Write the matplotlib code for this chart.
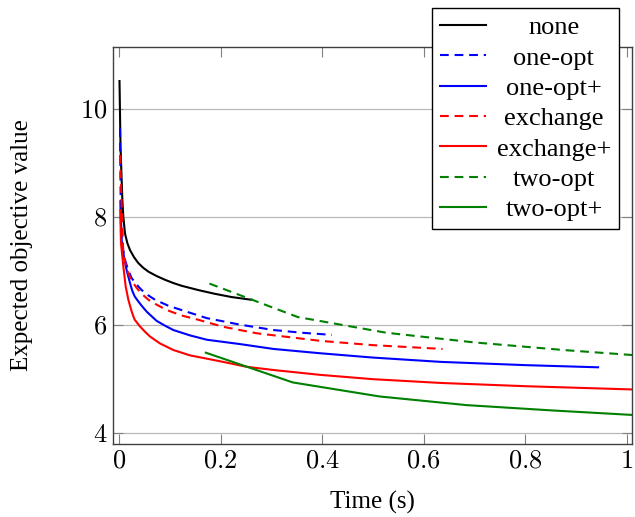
#!/usr/bin/env python3
"""Expected objective value over time for the local-search variants."""
import matplotlib

matplotlib.use("Agg")
import matplotlib.pyplot as plt
import matplotlib.transforms as mtransforms
from matplotlib.ticker import FuncFormatter

# --- data ------------------------------------------------------------------
none_x = [0.001, 0.003, 0.0066, 0.0085, 0.0118, 0.0164, 0.0217, 0.0295, 0.038, 0.048,
          0.058, 0.074, 0.0906, 0.107, 0.123, 0.156, 0.189, 0.222, 0.261]
none_y = [10.52, 9.3, 8.32, 8.01, 7.70, 7.52, 7.39, 7.26, 7.15, 7.06,
          6.99, 6.91, 6.84, 6.78, 6.73, 6.65, 6.58, 6.52, 6.47]

one_opt_x = [0.002, 0.0039, 0.0066, 0.0118, 0.0184, 0.025, 0.0348, 0.0446, 0.058, 0.071,
             0.097, 0.123, 0.173, 0.238, 0.304, 0.36, 0.419]
one_opt_y = [9.65, 7.70, 7.46, 7.21, 7.01, 6.87, 6.75, 6.65, 6.55, 6.47,
             6.36, 6.28, 6.13, 6.01, 5.91, 5.86, 5.82]

one_opt_plus_x = [0.003, 0.0052, 0.0098, 0.015, 0.0217, 0.026, 0.031, 0.038, 0.0446,
                  0.0545, 0.074, 0.0906, 0.107, 0.14, 0.173, 0.238, 0.304, 0.396, 0.5,
                  0.634, 0.8, 0.943]
one_opt_plus_y = [8.3, 7.58, 7.27, 7.02, 6.78, 6.64, 6.53, 6.44, 6.36,
                  6.25, 6.08, 5.99, 5.91, 5.81, 5.73, 5.65, 5.56, 5.48, 5.40,
                  5.32, 5.26, 5.22]

exchange_x = [0.002, 0.0085, 0.0131, 0.0184, 0.025, 0.0348, 0.0446, 0.058, 0.074, 0.094,
              0.123, 0.156, 0.205, 0.271, 0.396, 0.5, 0.637]
exchange_y = [9.15, 7.33, 7.12, 6.96, 6.82, 6.69, 6.58, 6.47, 6.38, 6.28,
              6.18, 6.10, 5.97, 5.85, 5.71, 5.63, 5.56]

exchange_plus_x = [0.0025, 0.0039, 0.0085, 0.0131, 0.0184, 0.025, 0.028, 0.031, 0.036,
                   0.041, 0.051, 0.061, 0.081, 0.107, 0.14, 0.173, 0.205, 0.251, 0.304,
                   0.396, 0.5, 0.634, 0.8, 1.01]
exchange_plus_y = [8.13, 7.52, 7.09, 6.72, 6.47, 6.25, 6.17, 6.10, 6.04,
                   5.98, 5.88, 5.79, 5.66, 5.54, 5.44, 5.38, 5.32, 5.23, 5.17,
                   5.08, 5.0, 4.93, 4.87, 4.81]

two_opt_x = [0.178, 0.352, 0.526, 0.70, 0.875, 1.05]
two_opt_y = [6.77, 6.15, 5.86, 5.68, 5.54, 5.42]

two_opt_plus_x = [0.171, 0.342, 0.513, 0.684, 0.855, 1.026]
two_opt_plus_y = [5.49, 4.94, 4.68, 4.52, 4.42, 4.33]

x_ticks = [0, 0.2, 0.4, 0.6, 0.8, 1]
y_ticks = [4, 6, 8, 10]

SERIES = [
    ("none", none_x, none_y, "black", "-"),
    ("one-opt", one_opt_x, one_opt_y, "blue", "--"),
    ("one-opt+", one_opt_plus_x, one_opt_plus_y, "blue", "-"),
    ("exchange", exchange_x, exchange_y, "red", "--"),
    ("exchange+", exchange_plus_x, exchange_plus_y, "red", "-"),
    ("two-opt", two_opt_x, two_opt_y, "green", "--"),
    ("two-opt+", two_opt_plus_x, two_opt_plus_y, "green", "-"),
]

plt.rcParams["font.family"] = ["Liberation Serif", "DejaVu Serif"]
plt.rcParams["mathtext.fontset"] = "cm"
FS = 18
FS_LEG = 19
FS_TICK = 19


def center_legend_texts(fig, leg):
    # pgfplots centres each legend entry in its column
    fig.canvas.draw()
    renderer = fig.canvas.get_renderer()
    texts = leg.get_texts()
    widths = [t.get_window_extent(renderer).width for t in texts]
    wmax = max(widths)
    for t, w in zip(texts, widths):
        shift = mtransforms.Affine2D().translate((wmax - w) / 2, 0)
        t.set_transform(t.get_transform() + shift)


def main() -> int:
    fig = plt.figure(figsize=(6.35, 5.17), dpi=100)
    ax = fig.add_axes([113 / 635, 1 - 444 / 517, 519 / 635, 397 / 517])

    for label, xs, ys, color, ls in SERIES:
        kw = {"dashes": (4.2, 2.8)} if ls == "--" else {}
        ax.plot(xs, ys, color=color, linestyle=ls, linewidth=1.5, label=label,
                solid_joinstyle="round", **kw)

    ax.set_xlim(-0.0118, 1.0098)
    ax.set_ylim(3.8, 11.15)
    ax.set_xticks(x_ticks)
    ax.set_yticks(y_ticks)
    fmt = FuncFormatter(lambda v, _: f"${v:g}$")
    ax.xaxis.set_major_formatter(fmt)
    ax.yaxis.set_major_formatter(fmt)
    ax.tick_params(direction="in", top=True, right=True, length=7.5, width=0.8,
                   color="#808080", labelsize=FS_TICK)
    ax.tick_params(axis="x", pad=5)
    ax.tick_params(axis="y", pad=4)
    ax.grid(axis="y", color="#b8b8b8", linewidth=0.9)
    ax.set_axisbelow(True)
    for spine in ax.spines.values():
        spine.set_color("#404040")
        spine.set_linewidth(1.0)

    ax.set_xlabel("Time (s)", fontsize=FS, labelpad=13)
    ax.set_ylabel("Expected objective value", fontsize=FS, labelpad=34)

    leg = fig.legend(loc="upper right", bbox_to_anchor=(619 / 635, 1 - 8 / 517),
                     fontsize=FS_LEG, frameon=True, fancybox=False, framealpha=1,
                     edgecolor="black", handlelength=1.75, handletextpad=0.4,
                     labelspacing=0.26, borderpad=0.3, borderaxespad=0)
    leg.get_frame().set_linewidth(1.0)
    center_legend_texts(fig, leg)

    fig.savefig("out.png", dpi=100)
    plt.close(fig)
    return 0


if __name__ == "__main__":
    raise SystemExit(main())
